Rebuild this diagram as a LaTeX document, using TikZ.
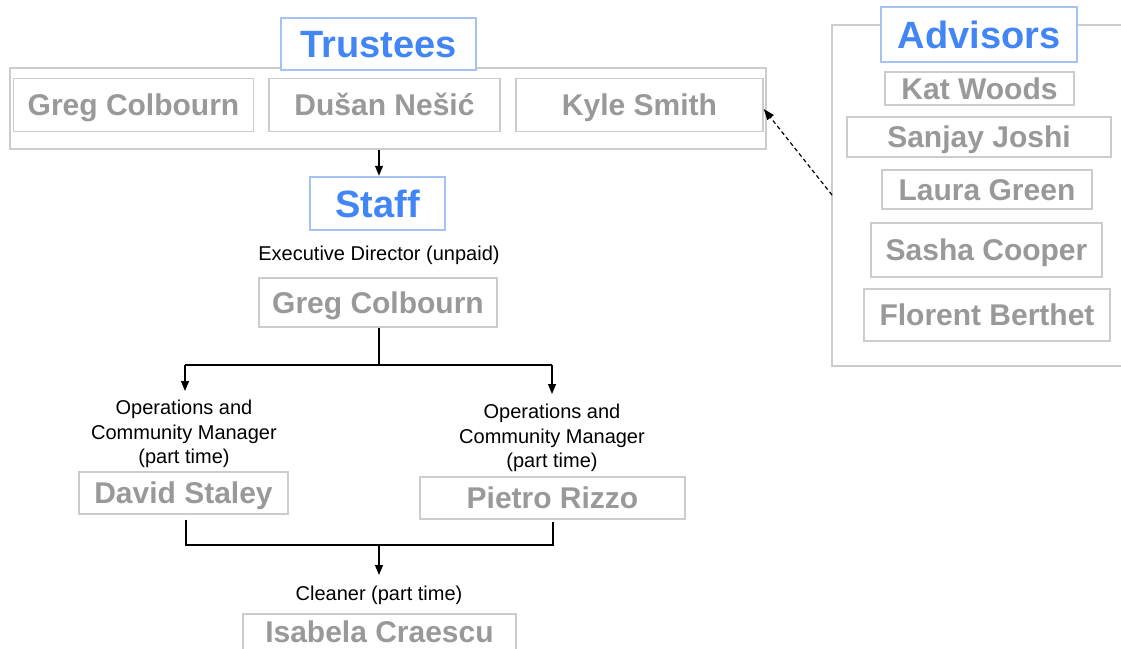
\documentclass[tikz,border=0pt]{standalone}
\usepackage{fontspec}
\setmainfont{Liberation Sans}
\usetikzlibrary{arrows.meta}
\definecolor{namegray}{HTML}{999999}
\definecolor{boxgray}{HTML}{CCCCCC}
\definecolor{hdrblue}{HTML}{4285F4}
\definecolor{hdrborder}{HTML}{A4C2F4}
\tikzset{
  px/.style={x=1pt,y=-1pt},
  namebox/.style={draw=boxgray, line width=1.5pt, fill=white, inner sep=0pt,
    text height=21.5pt, text depth=0pt,
    font=\fontsize{30}{32}\selectfont\bfseries, text=namegray},
  hdrbox/.style={draw=hdrborder, line width=1.5pt, fill=white, inner sep=0pt,
    text height=27.2pt, text depth=0pt,
    font=\fontsize{38}{40}\selectfont\bfseries, text=hdrblue},
  contbox/.style={draw=boxgray, line width=1.5pt, inner sep=0pt},
  rolelabel/.style={align=center, inner sep=0pt, font=\fontsize{20}{24.5}\selectfont},
  conn/.style={line width=1.2pt, draw=black},
  arr/.style={conn, -{Triangle[length=10pt,width=8pt]}},
}
\begin{document}
\begin{tikzpicture}[px]
\useasboundingbox (0,0) rectangle (1121,648);
% Trustees group
\node[contbox, minimum width=756pt, minimum height=81pt] (tcont) at (388,108.5) {};
\node[hdrbox, minimum width=195pt, minimum height=52pt] (trustees) at (378.5,44) {Trustees};
\node[namebox, minimum width=240pt, minimum height=53pt] (gregT) at (133.5,105) {Greg Colbourn};
\node[namebox, minimum width=231pt, minimum height=53pt] (dusan) at (384.5,105) {Dušan Nešić};
\node[namebox, minimum width=247pt, minimum height=53pt] (kyle) at (639.5,105) {Kyle Smith};
% Staff
\node[hdrbox, minimum width=135pt, minimum height=53pt] (staff) at (377.5,203.5) {Staff};
\node[rolelabel] (edlabel) at (379,255) {Executive Director (unpaid)};
\node[namebox, minimum width=238pt, minimum height=49pt] (gregS) at (378,302.5) {Greg Colbourn};
\node[rolelabel] (oplabelL) at (184,434) {Operations and\\Community Manager\\(part time)};
\node[namebox, minimum width=209pt, minimum height=42pt] (david) at (183.5,493) {David Staley};
\node[rolelabel] (oplabelR) at (552,438) {Operations and\\Community Manager\\(part time)};
\node[namebox, minimum width=265pt, minimum height=42pt] (pietro) at (552.5,498) {Pietro Rizzo};
\node[rolelabel] (cleaner) at (379,595) {Cleaner (part time)};
\node[namebox, minimum width=273pt, minimum height=36pt] (isabela) at (379.5,632) {Isabela Craescu};
% Advisors group
\coordinate (acTR) at (1130,25);
\coordinate (acTL) at (832,25);
\coordinate (acBL) at (832,366);
\coordinate (acBR) at (1130,366);
\draw[boxgray, line width=1.5pt] (acTR) -- (acTL) -- (acBL) -- (acBR);
\node[hdrbox, minimum width=196pt, minimum height=55pt] (advisors) at (979,34.5) {Advisors};
\node[namebox, minimum width=189pt, minimum height=33pt] (kat) at (979.5,88.5) {Kat Woods};
\node[namebox, minimum width=264pt, minimum height=40pt] (sanjay) at (979,137) {Sanjay Joshi};
\node[namebox, minimum width=210pt, minimum height=39pt] (laura) at (987,189.5) {Laura Green};
\node[namebox, minimum width=231pt, minimum height=54pt] (sasha) at (986.5,250) {Sasha Cooper};
\node[namebox, minimum width=246pt, minimum height=52pt] (florent) at (987,315) {Florent Berthet};
% connectors
\draw[arr] (tcont.south -| staff.north) ++(1.5,0) -- ++(0,26);
\coordinate (j1) at (379,365);
\coordinate (jL) at (185,365);
\coordinate (jR) at (552,365);
\draw[conn] (gregS.south -| j1) -- (j1);
\draw[conn] (jL) -- (jR);
\draw[arr] (jL) -- ++(0,26);
\draw[arr] (jR) -- ++(0,29);
\coordinate (bL) at (186,545);
\coordinate (bR) at (553,545);
\coordinate (bM) at (379,545);
\draw[conn] ([yshift=-5pt]david.south -| bL) -- (bL) -- (bR) -- ([yshift=-2pt]pietro.south -| bR);
\draw[arr] (bM) -- ++(0,30);
\coordinate (dashstart) at (832,195);
\draw[line width=1.2pt, dashed, dash pattern=on 4pt off 3pt, -{Triangle[length=11pt,width=8pt]}] (dashstart) -- (kyle.east |- 0,109);
\end{tikzpicture}
\end{document}
